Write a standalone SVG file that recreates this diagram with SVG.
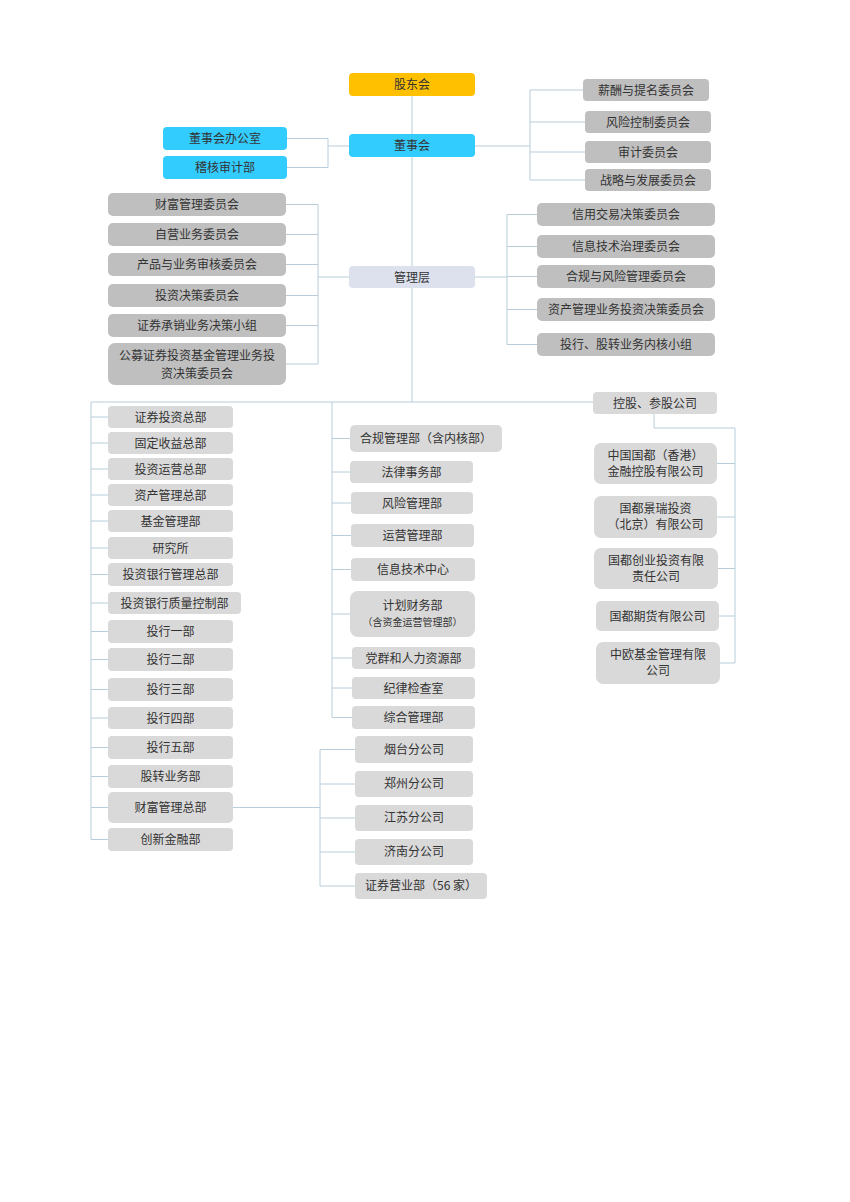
<svg xmlns="http://www.w3.org/2000/svg" width="850" height="1202" viewBox="0 0 850 1202">
<style>
text{font-family:"Noto Sans CJK SC","Liberation Sans",sans-serif;font-size:12px;fill:#333;text-anchor:middle}
.s{font-size:10px}
.y{fill:#FFC000}
.b{fill:#33CCFF}
.m{fill:#DDE1EE}
.c{fill:#BFBFBF}
.d{fill:#D9D9D9}
#connectors path{fill:none;stroke:#B8CCDA;stroke-width:1}
</style>
<rect width="850" height="1202" fill="#fff"/>
<g id="connectors">
<path d="M412 96V134M412 157V266M412 288V402"/>
<path d="M287 138.5H328M287 167.5H328M328 138.5V167.5M328 146H349"/>
<path d="M475 146H530M530 90V180M530 90H583M530 122H585M530 152H585M530 180H585"/>
<path d="M286 204.5H318M286 234.5H318M286 264.5H318M286 295.5H318M286 325.5H318M286 364H318M318 204.5V364M318 277H349"/>
<path d="M475 277H507M507 214.5V344.5M507 214.5H537M507 246.5H537M507 276.5H537M507 309.5H537M507 344.5H537"/>
<path d="M91 402H593M91 402V839.5"/>
<path d="M91 417H108M91 443H108M91 469H108M91 495H108M91 521H108M91 548H108M91 574.5H108M91 603H108M91 631.5H108M91 659.5H108M91 689.5H108M91 718H108M91 747.5H108M91 776.5H108M91 807.5H108M91 839.5H108"/>
<path d="M332 402V717.5M332 438.5H350M332 472H350M332 503H351M332 535.5H351M332 569.5H351M332 614H350M332 658H352M332 688H352M332 717.5H352"/>
<path d="M654 414V428H735V663M717 463.5H735M717 517H735M718 568.5H735M719 616H735M720 663H735"/>
<path d="M233 807.5H320M320 749.5V886M320 749.5H355M320 784H355M320 818H355M320 852H355M320 886H355"/>
</g>
<g id="n-gdh"><rect class="y" x="349" y="73" width="126" height="23" rx="4"/><text x="412" y="89">股东会</text></g>
<g id="n-dsh"><rect class="b" x="349" y="134" width="126" height="23" rx="4"/><text x="412" y="150">董事会</text></g>
<g id="n-dshbgs"><rect class="b" x="163" y="127" width="124" height="23" rx="4"/><text x="225" y="143">董事会办公室</text></g>
<g id="n-jhsjb"><rect class="b" x="163" y="156" width="124" height="23" rx="4"/><text x="225" y="172">稽核审计部</text></g>
<g id="n-xc"><rect class="c" x="583" y="79" width="126" height="22" rx="4"/><text x="646" y="94.5">薪酬与提名委员会</text></g>
<g id="n-fk"><rect class="c" x="585" y="111" width="126" height="22" rx="4"/><text x="648" y="126.5">风险控制委员会</text></g>
<g id="n-sj"><rect class="c" x="585" y="141" width="126" height="22" rx="4"/><text x="648" y="156.5">审计委员会</text></g>
<g id="n-zl"><rect class="c" x="585" y="169" width="126" height="22" rx="4"/><text x="648" y="184.5">战略与发展委员会</text></g>
<g id="n-glc"><rect class="m" x="349" y="266" width="126" height="22" rx="4"/><text x="412" y="281.5">管理层</text></g>
<g id="n-cfwy"><rect class="c" x="108" y="193" width="178" height="23" rx="5"/><text x="197" y="209">财富管理委员会</text></g>
<g id="n-zy"><rect class="c" x="108" y="223" width="178" height="23" rx="5"/><text x="197" y="239">自营业务委员会</text></g>
<g id="n-cp"><rect class="c" x="108" y="253" width="178" height="23" rx="5"/><text x="197" y="269">产品与业务审核委员会</text></g>
<g id="n-tzjc"><rect class="c" x="108" y="284" width="178" height="23" rx="5"/><text x="197" y="300">投资决策委员会</text></g>
<g id="n-zqcx"><rect class="c" x="108" y="314" width="178" height="23" rx="5"/><text x="197" y="330">证券承销业务决策小组</text></g>
<g id="n-gm"><rect class="c" x="108" y="343" width="178" height="42" rx="7"/><text x="197" y="360">公募证券投资基金管理业务投</text><text x="197" y="378">资决策委员会</text></g>
<g id="n-xyjy"><rect class="c" x="537" y="203" width="178" height="23" rx="5"/><text x="626" y="219">信用交易决策委员会</text></g>
<g id="n-xxjs"><rect class="c" x="537" y="235" width="178" height="23" rx="5"/><text x="626" y="251">信息技术治理委员会</text></g>
<g id="n-hgfx"><rect class="c" x="537" y="265" width="178" height="23" rx="5"/><text x="626" y="281">合规与风险管理委员会</text></g>
<g id="n-zcgl"><rect class="c" x="537" y="298" width="178" height="23" rx="5"/><text x="626" y="314">资产管理业务投资决策委员会</text></g>
<g id="n-txgz"><rect class="c" x="537" y="333" width="178" height="23" rx="5"/><text x="626" y="349">投行、股转业务内核小组</text></g>
<g id="n-d1"><rect class="d" x="108" y="406" width="125" height="22" rx="4"/><text x="170.5" y="421.5">证券投资总部</text></g>
<g id="n-d2"><rect class="d" x="108" y="432" width="125" height="22" rx="4"/><text x="170.5" y="447.5">固定收益总部</text></g>
<g id="n-d3"><rect class="d" x="108" y="458" width="125" height="22" rx="4"/><text x="170.5" y="473.5">投资运营总部</text></g>
<g id="n-d4"><rect class="d" x="108" y="484" width="125" height="22" rx="4"/><text x="170.5" y="499.5">资产管理总部</text></g>
<g id="n-d5"><rect class="d" x="108" y="510" width="125" height="22" rx="4"/><text x="170.5" y="525.5">基金管理部</text></g>
<g id="n-d6"><rect class="d" x="108" y="537" width="125" height="22" rx="4"/><text x="170.5" y="552.5">研究所</text></g>
<g id="n-d7"><rect class="d" x="108" y="563" width="125" height="23" rx="4"/><text x="170.5" y="579">投资银行管理总部</text></g>
<g id="n-d8"><rect class="d" x="108" y="592" width="133" height="22" rx="4"/><text x="174.5" y="607.5">投资银行质量控制部</text></g>
<g id="n-d9"><rect class="d" x="108" y="620" width="125" height="23" rx="4"/><text x="170.5" y="636">投行一部</text></g>
<g id="n-d10"><rect class="d" x="108" y="648" width="125" height="23" rx="4"/><text x="170.5" y="664">投行二部</text></g>
<g id="n-d11"><rect class="d" x="108" y="678" width="125" height="23" rx="4"/><text x="170.5" y="694">投行三部</text></g>
<g id="n-d12"><rect class="d" x="108" y="707" width="125" height="22" rx="4"/><text x="170.5" y="722.5">投行四部</text></g>
<g id="n-d13"><rect class="d" x="108" y="736" width="125" height="23" rx="4"/><text x="170.5" y="752">投行五部</text></g>
<g id="n-d14"><rect class="d" x="108" y="765" width="125" height="23" rx="4"/><text x="170.5" y="781">股转业务部</text></g>
<g id="n-d15"><rect class="d" x="108" y="792" width="125" height="31" rx="5"/><text x="170.5" y="812">财富管理总部</text></g>
<g id="n-d16"><rect class="d" x="108" y="828" width="125" height="23" rx="4"/><text x="170.5" y="844">创新金融部</text></g>
<g id="n-m1"><rect class="d" x="350" y="425" width="152" height="27" rx="5"/><text x="426" y="442.5">合规管理部（含内核部）</text></g>
<g id="n-m2"><rect class="d" x="350" y="461" width="123" height="22" rx="4"/><text x="411.5" y="476.5">法律事务部</text></g>
<g id="n-m3"><rect class="d" x="351" y="492" width="122" height="22" rx="4"/><text x="412" y="507.5">风险管理部</text></g>
<g id="n-m4"><rect class="d" x="351" y="524" width="123" height="23" rx="4"/><text x="412.5" y="540">运营管理部</text></g>
<g id="n-m5"><rect class="d" x="351" y="558" width="124" height="23" rx="4"/><text x="413" y="574">信息技术中心</text></g>
<g id="n-m6"><rect class="d" x="350" y="591" width="125" height="46" rx="8"/><text x="412.5" y="610">计划财务部</text><text class="s" x="412.5" y="626">（含资金运营管理部）</text></g>
<g id="n-m7"><rect class="d" x="352" y="647" width="123" height="22" rx="4"/><text x="413.5" y="662.5">党群和人力资源部</text></g>
<g id="n-m8"><rect class="d" x="352" y="677" width="123" height="22" rx="4"/><text x="413.5" y="692.5">纪律检查室</text></g>
<g id="n-m9"><rect class="d" x="352" y="706" width="123" height="23" rx="4"/><text x="413.5" y="722">综合管理部</text></g>
<g id="n-kg"><rect class="d" x="593" y="392" width="124" height="22" rx="4"/><text x="655" y="407.5">控股、参股公司</text></g>
<g id="n-s1"><rect class="d" x="594" y="443" width="123" height="41" rx="7"/><text x="655.5" y="460">中国国都（香港）</text><text x="655.5" y="476">金融控股有限公司</text></g>
<g id="n-s2"><rect class="d" x="594" y="496" width="123" height="42" rx="7"/><text x="655.5" y="513">国都景瑞投资</text><text x="655.5" y="529">（北京）有限公司</text></g>
<g id="n-s3"><rect class="d" x="594" y="548" width="124" height="41" rx="7"/><text x="656" y="565">国都创业投资有限</text><text x="656" y="581">责任公司</text></g>
<g id="n-s4"><rect class="d" x="596" y="601" width="123" height="30" rx="5"/><text x="657.5" y="620.5">国都期货有限公司</text></g>
<g id="n-s5"><rect class="d" x="596" y="642" width="124" height="42" rx="7"/><text x="658" y="659">中欧基金管理有限</text><text x="658" y="675">公司</text></g>
<g id="n-b1"><rect class="d" x="355" y="736" width="118" height="27" rx="4"/><text x="414" y="753.5">烟台分公司</text></g>
<g id="n-b2"><rect class="d" x="355" y="771" width="118" height="26" rx="4"/><text x="414" y="788">郑州分公司</text></g>
<g id="n-b3"><rect class="d" x="355" y="805" width="118" height="26" rx="4"/><text x="414" y="822">江苏分公司</text></g>
<g id="n-b4"><rect class="d" x="355" y="839" width="118" height="26" rx="4"/><text x="414" y="856">济南分公司</text></g>
<g id="n-b5"><rect class="d" x="355" y="873" width="132" height="26" rx="4"/><text x="421" y="890">证券营业部（56 家）</text></g>
</svg>
